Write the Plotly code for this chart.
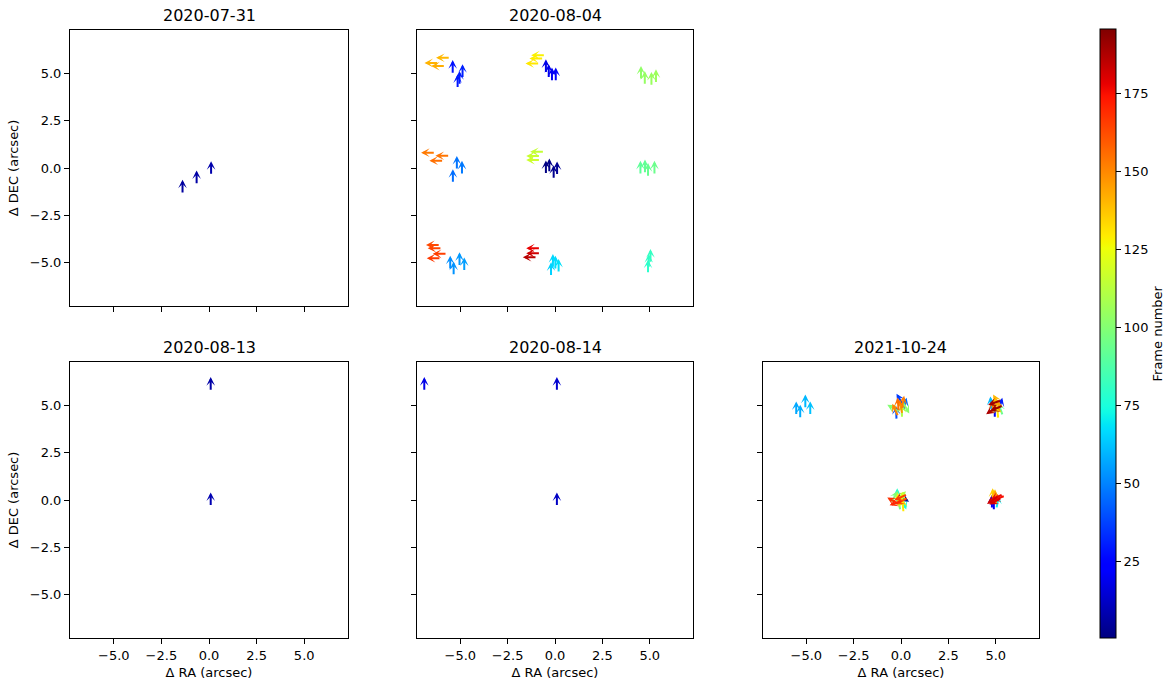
import numpy as np
import plotly.graph_objects as go

# ---------------- data ----------------
# Each arrow: anchor x, y (arcsec), direction angle (deg, 0 = +RA axis, 90 = north), frame number
titles = ["2020-07-31", "2020-08-04", "2020-08-13", "2020-08-14", "2021-10-24"]

# panels 1-4: anchor = arrow tail
p1_x = [-1.39, -0.65, 0.11]
p1_y = [-1.37, -0.88, -0.39]
p1_ang = [90, 90, 90]
p1_frame = [6, 7, 8]

p2_x = [-0.48, -0.30, -0.07, 0.11,
        -0.48, -0.33, -0.16, 0.04,
        -5.40, -5.14, -5.04, -4.88,
        -5.39, -5.18, -4.91,
        -5.53, -5.35, -5.04, -4.79,
        -0.21, -0.11, 0.02, 0.19,
        4.91, 4.95, 5.04,
        4.51, 4.75, 4.91, 5.25,
        4.54, 4.74, 5.09, 5.33,
        -0.56, -0.77, -0.77,
        -0.51, -0.60, -0.81,
        -5.53, -6.14, -5.79,
        -6.32, -5.56, -5.88,
        -6.06, -5.97, -5.70, -6.02,
        -0.77, -0.77, -0.95]
p2_y = [-0.35, -0.25, -0.60, -0.40,
        5.00, 4.74, 4.56, 4.56,
        4.96, 4.21, 4.38, 4.74,
        -0.81, -0.11, -0.37,
        -5.39, -5.70, -5.21, -5.48,
        -5.74, -5.30, -5.39, -5.56,
        -5.60, -5.30, -5.04,
        -0.37, -0.30, -0.49, -0.37,
        4.65, 4.38, 4.33, 4.47,
        0.86, 0.63, 0.42,
        5.97, 5.79, 5.53,
        5.83, 5.56, 5.39,
        0.81, 0.65, 0.39,
        -4.07, -4.24, -4.54, -4.77,
        -4.24, -4.51, -4.72]
p2_ang = [90] * 34 + [180] * 19
p2_frame = [1, 2, 3, 4,
            18, 19, 20, 21,
            28, 29, 30, 31,
            46, 47, 48,
            52, 53, 54, 55,
            65, 66, 67, 68,
            79, 80, 81,
            91, 92, 93, 94,
            103, 104, 105, 106,
            115, 116, 117,
            128, 129, 130,
            140, 141, 142,
            153, 154, 155,
            163, 164, 165, 166,
            178, 182, 186]

p3_x = [0.09, 0.09]
p3_y = [5.75, -0.35]
p3_ang = [90, 90]
p3_frame = [7, 9]

p4_x = [-6.90, 0.10, 0.10]
p4_y = [5.75, 5.75, -0.35]
p4_ang = [90, 90, 90]
p4_frame = [18, 14, 12]

# panel 5: anchor = arrow midpoint
p5_x = [-5.53, -5.32, -5.05, -4.79,
        -0.40, -0.25, -0.30, 0.00, 0.10, -0.05, 0.25, 0.20, -0.15, 0.05,
        4.95, 5.05, 4.80, 4.95, 5.15, 4.85, 4.95, 5.25, 5.25, 5.05, 4.75, 5.10,
        0.00, 0.05, -0.25, -0.15, 0.05, -0.35, 0.15, 0.10, -0.10, -0.40, 0.00, -0.20, 0.10,
        4.85, 4.95, 5.05, 5.00, 5.15, 4.90, 4.80, 5.10, 4.85, 5.00]
p5_y = [4.84, 4.67, 5.20, 4.84,
        4.85, 4.60, 4.75, 4.90, 5.15, 5.30, 4.90, 5.05, 5.05, 4.70,
        5.15, 4.85, 4.75, 5.05, 4.95, 4.90, 4.70, 5.05, 4.80, 5.25, 5.10, 4.65,
        0.15, -0.05, -0.15, 0.00, 0.05, 0.15, -0.15, 0.10, -0.20, -0.05, 0.20, 0.25, -0.30,
        0.25, 0.20, 0.15, -0.05, 0.10, -0.20, -0.10, -0.10, 0.00, 0.10]
p5_ang = [90, 90, 90, 90,
          150, 92, 115, 100, 80, 120, -60, 75, 95, 90,
          200, 205, 215, 92, 100, 85, 90, 75, 110, 120, 95, 95,
          205, 210, 200, 95, 85, 60, -70, -30, 100, 150, 45, 90, 95,
          92, 88, 205, 210, 200, 90, 90, 80, 215, 95]
p5_frame = [57, 58, 60, 62,
            100, 40, 150, 148, 152, 36, 102, 45, 155, 110,
            190, 191, 188, 135, 145, 150, 25, 30, 92, 140, 60, 130,
            165, 162, 170, 125, 120, 100, 75, 5, 95, 168, 110, 80, 130,
            135, 140, 177, 180, 175, 20, 22, 70, 182, 145]

FRAME_MIN, FRAME_MAX = 0.5, 195.5
cbar_ticks = [25, 50, 75, 100, 125, 150, 175]
axis_ticks = [-5.0, -2.5, 0.0, 2.5, 5.0]

# ---------------- styling ----------------
ARROW_LEN = 0.75
RANGE = [-7.3, 7.3]
W, H = 1172, 683
FONT = "DejaVu Sans"

# matplotlib 'jet' colormap definition
JET = {
    'r': [(0, 0), (0.35, 0), (0.66, 1), (0.89, 1), (1, 0.5)],
    'g': [(0, 0), (0.125, 0), (0.375, 1), (0.64, 1), (0.91, 0), (1, 0)],
    'b': [(0, 0.5), (0.11, 1), (0.34, 1), (0.65, 0), (1, 0)],
}


def jet_rgb(t):
    t = min(max(t, 0.0), 1.0)
    vals = []
    for ch in 'rgb':
        xs = [p[0] for p in JET[ch]]
        ys = [p[1] for p in JET[ch]]
        vals.append(int(round(255 * float(np.interp(t, xs, ys)))))
    return 'rgb(%d,%d,%d)' % tuple(vals)


jet_scale = [[float(t), jet_rgb(t)] for t in np.linspace(0, 1, 101)]


def frame_color(f):
    return jet_rgb((f - FRAME_MIN) / (FRAME_MAX - FRAME_MIN))


# pixel boxes of axes: (left, right, top, bottom)
boxes = [
    (70, 348, 30, 306),
    (416.7, 693.3, 30, 306),
    (70, 348, 362, 638),
    (416.7, 693.3, 362, 638),
    (762.7, 1039.3, 362, 638),
]
panel_data = [
    (p1_x, p1_y, p1_ang, p1_frame),
    (p2_x, p2_y, p2_ang, p2_frame),
    (p3_x, p3_y, p3_ang, p3_frame),
    (p4_x, p4_y, p4_ang, p4_frame),
    (p5_x, p5_y, p5_ang, p5_frame),
]
pivots = ["tail", "tail", "tail", "tail", "middle"]
show_xlabels = [False, False, True, True, True]
show_ylabels = [True, False, True, False, False]

fig = go.Figure()
layout = dict(
    width=W, height=H,
    margin=dict(l=0, r=0, t=0, b=0),
    paper_bgcolor="white", plot_bgcolor="white",
    template="none",
    font=dict(family=FONT, size=13, color="black"),
    showlegend=False,
)
annotations = []

for i, ((l, r, t, b), (xs, ys, angs, frames)) in enumerate(zip(boxes, panel_data)):
    n = "" if i == 0 else str(i + 1)
    xref, yref = "x" + n, "y" + n
    common = dict(
        range=RANGE, showgrid=False, zeroline=False,
        showline=True, linecolor="black", linewidth=1, mirror=True,
        ticks="outside", ticklen=5, tickwidth=1, tickcolor="black",
        tickvals=axis_ticks, ticktext=["%.1f" % v if v >= 0 else "\u2212%.1f" % -v for v in axis_ticks],
        tickfont=dict(size=13, family=FONT), fixedrange=True, automargin=False,
    )
    xa = dict(common, domain=[l / W, r / W], anchor=yref, showticklabels=show_xlabels[i])
    ya = dict(common, domain=[1 - b / H, 1 - t / H], anchor=xref, showticklabels=show_ylabels[i])
    if show_xlabels[i]:
        xa["title"] = dict(text="\u0394 RA (arcsec)", font=dict(size=13, family=FONT), standoff=6)
    if show_ylabels[i]:
        ya["title"] = dict(text="\u0394 DEC (arcsec)", font=dict(size=13, family=FONT), standoff=8)
    layout["xaxis" + n] = xa
    layout["yaxis" + n] = ya

    # panel title
    annotations.append(dict(
        text=titles[i], xref="paper", yref="paper",
        x=(l + r) / 2 / W, y=1 - t / H, xanchor="center", yanchor="bottom",
        yshift=3, showarrow=False, font=dict(size=16, family=FONT, color="black"),
    ))

    shift = 0.5 if pivots[i] == "middle" else 0.0
    order = sorted(range(len(frames)), key=lambda k: frames[k])
    for k in order:
        a = np.deg2rad(angs[k])
        dx, dy = ARROW_LEN * np.cos(a), ARROW_LEN * np.sin(a)
        tx, ty = xs[k] - shift * dx, ys[k] - shift * dy
        annotations.append(dict(
            x=float(tx + dx), y=float(ty + dy), ax=float(tx), ay=float(ty),
            xref=xref, yref=yref, axref=xref, ayref=yref,
            text="", showarrow=True, arrowhead=3, arrowsize=0.72,
            arrowwidth=2.0, arrowcolor=frame_color(frames[k]),
            standoff=0, startstandoff=0,
        ))

    # invisible anchor trace so each axis is drawn
    fig.add_trace(go.Scatter(x=xs, y=ys, mode="markers", xaxis=xref, yaxis=yref,
                             marker=dict(size=1, opacity=0), hoverinfo="skip"))

# colour bar
fig.add_trace(go.Scatter(
    x=[None, None], y=[None, None], mode="markers", xaxis="x5", yaxis="y5",
    marker=dict(
        color=[FRAME_MIN, FRAME_MAX], colorscale=jet_scale, cmin=FRAME_MIN, cmax=FRAME_MAX,
        showscale=True,
        colorbar=dict(
            x=1100 / W, xanchor="left", xpad=0,
            y=1 - 29.3 / H, yanchor="top", ypad=0,
            len=609 / H, lenmode="fraction",
            thickness=16, thicknessmode="pixels",
            outlinewidth=1, outlinecolor="black",
            ticks="outside", ticklen=5, tickcolor="black",
            tickvals=cbar_ticks, tickfont=dict(size=13, family=FONT),
            title=dict(text="Frame number", side="right", font=dict(size=13, family=FONT)),
        ),
    ),
    hoverinfo="skip",
))

layout["annotations"] = annotations
fig.update_layout(**layout)
fig.write_html("out.html")
